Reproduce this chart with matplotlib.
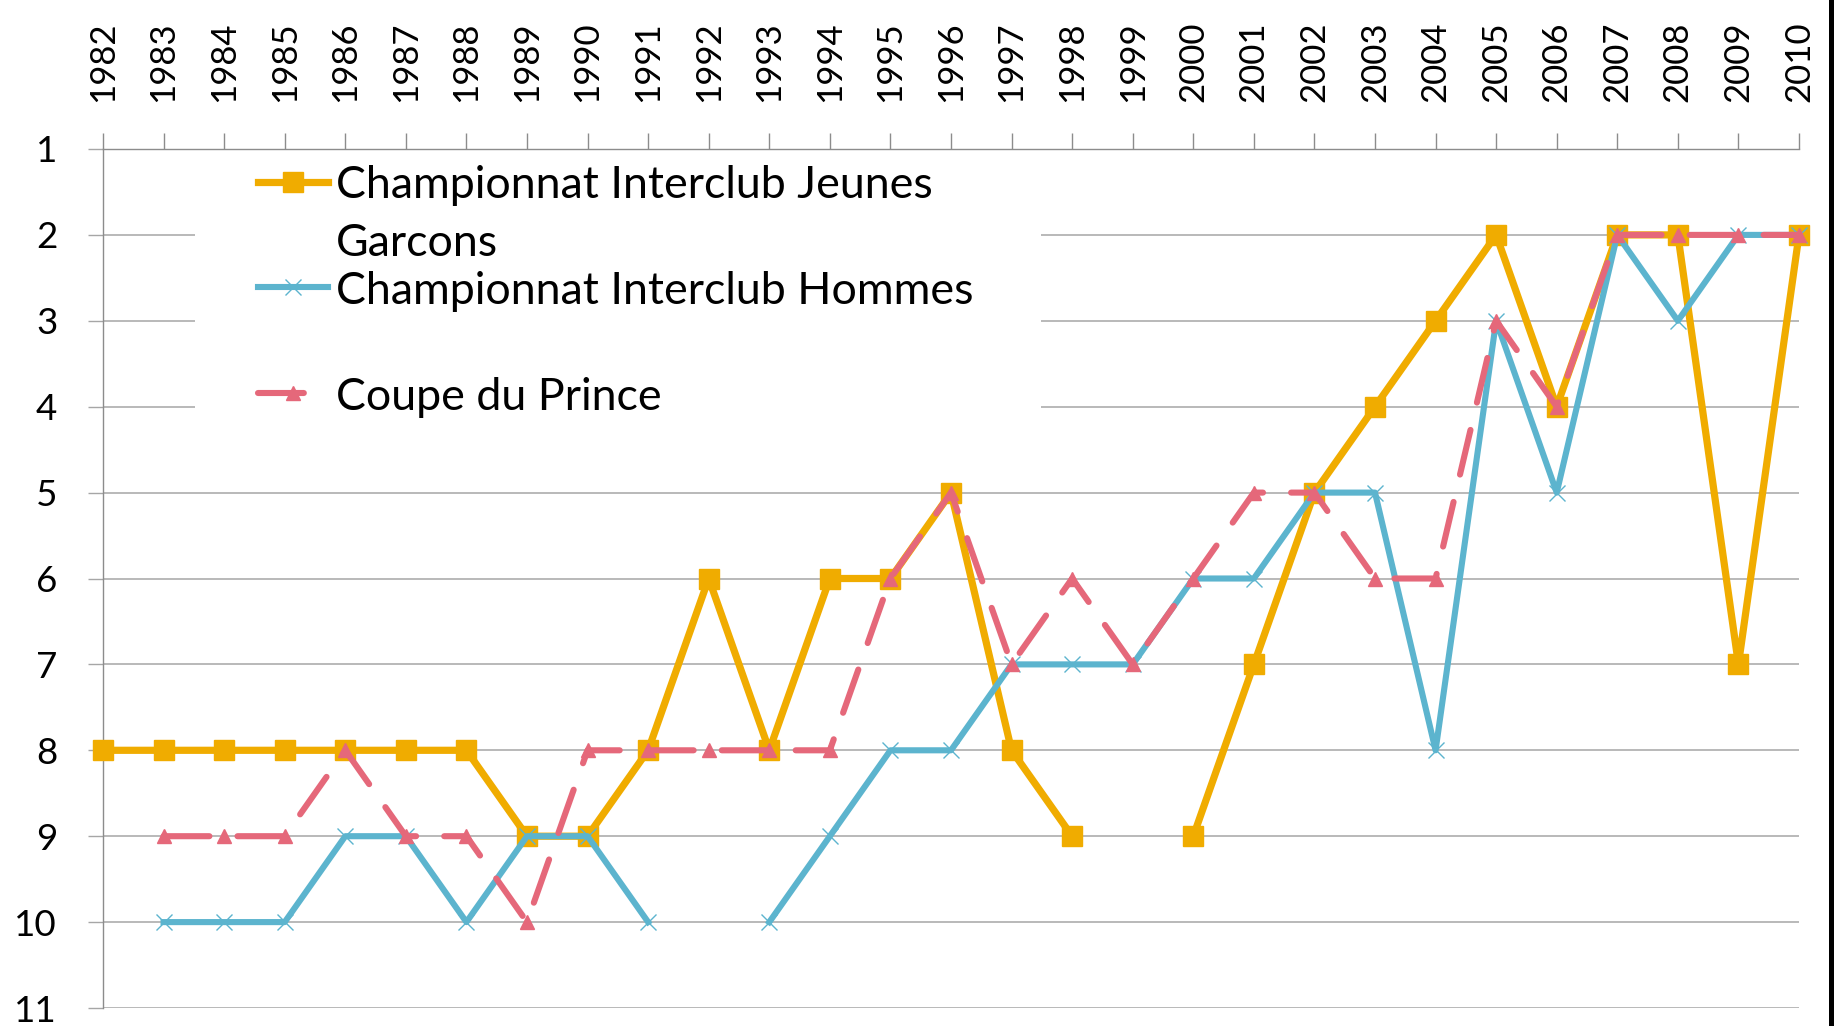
import numpy as np
import matplotlib
matplotlib.use("Agg")
import matplotlib.pyplot as plt
from matplotlib.lines import Line2D
from matplotlib.patches import Rectangle

years = list(range(1982, 2011))
nan = np.nan
jeunes = [8, 8, 8, 8, 8, 8, 8, 9, 9, 8, 6, 8, 6, 6, 5, 8, 9, nan, 9, 7, 5, 4, 3, 2, 4, 2, 2, 7, 2]
hommes = [nan, 10, 10, 10, 9, 9, 10, 9, 9, 10, nan, 10, 9, 8, 8, 7, 7, 7, 6, 6, 5, 5, 8, 3, 5, 2, 3, 2, 2]
prince = [nan, 9, 9, 9, 8, 9, 9, 10, 8, 8, 8, 8, 8, 6, 5, 7, 6, 7, 6, 5, 5, 6, 6, 3, 4, 2, 2, 2, 2]
labels = [["Championnat Interclub Jeunes", "Garcons"], ["Championnat Interclub Hommes"], ["Coupe du Prince"]]
yticks = list(range(1, 12))

C_OR = "#F0AC00"
C_BL = "#5CB4CE"
C_RD = "#E5687A"
GRID = "#A6A6A6"
AXC = "#8C8C8C"
FONT = ["Lato", "DejaVu Sans"]

plt.rcParams['font.family'] = FONT

W, H = 1834, 1026
fig = plt.figure(figsize=(W / 100, H / 100), dpi=100)
L, R, T, B = 103, 1799, 149, 1008
ax = fig.add_axes([L / W, 1 - B / H, (R - L) / W, (B - T) / H])

ax.set_xlim(years[0], years[-1])
ax.set_ylim(11, 1)
ax.set_yticks(yticks)
ax.set_xticks(years)
ax.xaxis.tick_top()
ax.tick_params(axis='x', which='both', top=True, bottom=False, direction='out', length=11.5,
               width=1, color=AXC, labelsize=25, labelrotation=90, pad=22)
ax.tick_params(axis='y', direction='out', length=11, width=1, color=GRID, labelsize=26.5, pad=22)
for lab in ax.get_xticklabels():
    lab.set_verticalalignment('bottom')
ax.grid(axis='y', color=GRID, lw=1.1, zorder=0)
ax.set_axisbelow(True)
for s in ['right', 'bottom']:
    ax.spines[s].set_visible(False)
for s in ['left', 'top']:
    ax.spines[s].set_color(AXC)
    ax.spines[s].set_linewidth(1)

dash = (7.5, 4.6)
LW_O, LW_B, LW_R = 5.2, 4.4, 4.4
ax.plot(years, jeunes, color=C_OR, lw=LW_O, marker='s', ms=14, mec=C_OR, mfc=C_OR,
        solid_joinstyle='round', zorder=3, clip_on=False)
ax.plot(years, hommes, color=C_BL, lw=LW_B, marker='x', ms=12, mew=1.0, mec=C_BL,
        solid_joinstyle='round', zorder=4, clip_on=False)
ax.plot(years, prince, color=C_RD, lw=LW_R, marker='^', ms=10.5, mec=C_RD, mfc=C_RD,
        linestyle=(0, dash), dash_capstyle='round', zorder=5, clip_on=False)


def axf(px, py):
    return (px - L) / (R - L), (B - py) / (B - T)


# legend (white box without frame)
x0, y0 = axf(195, 452)
x1, y1 = axf(1041, 158)
ax.add_patch(Rectangle((x0, y0), x1 - x0, y1 - y0, transform=ax.transAxes,
                       facecolor='white', edgecolor='none', zorder=2))
hx0, _ = axf(258, 0)
hx1, _ = axf(328, 0)
hxm, _ = axf(293, 0)
tx, _ = axf(336, 0)
rows = [182, 287, 393]
line_gap = 58
styles = [
    dict(color=C_OR, lw=LW_O, marker='s', ms=14, mec=C_OR, mfc=C_OR),
    dict(color=C_BL, lw=LW_B, marker='x', ms=12, mew=1.0, mec=C_BL),
    dict(color=C_RD, lw=LW_R, marker='^', ms=10.5, mec=C_RD, mfc=C_RD, linestyle=(0, dash),
         dash_capstyle='round'),
]
for labs, row, st in zip(labels, rows, styles):
    _, yy = axf(0, row)
    line_kw = {k: v for k, v in st.items() if k not in ('marker', 'ms', 'mec', 'mfc', 'mew')}
    ax.add_line(Line2D([hx0, hx1], [yy, yy], transform=ax.transAxes, zorder=6, clip_on=False,
                       **line_kw))
    mk_kw = {k: v for k, v in st.items() if k not in ('linestyle', 'dash_capstyle', 'lw')}
    ax.add_line(Line2D([hxm], [yy], transform=ax.transAxes, zorder=6, clip_on=False,
                       linestyle='none', **mk_kw))
    for i, lab in enumerate(labs):
        _, ly = axf(0, row + i * line_gap)
        ax.text(tx, ly, lab, transform=ax.transAxes, fontsize=32.2, va='center_baseline',
                ha='left', zorder=7)

# right edge black bar
fig.add_artist(Rectangle((1829 / W, 0), 5 / W, 1, transform=fig.transFigure,
                         facecolor='black', edgecolor='none'))

fig.savefig("out.png", dpi=100, facecolor='white')
